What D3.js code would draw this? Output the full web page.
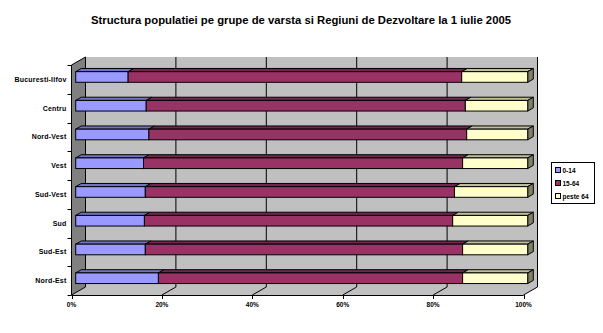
<!DOCTYPE html>
<html>
<head>
<meta charset="utf-8">
<script src="https://cdn.jsdelivr.net/npm/d3@7"></script>
<style>
	body { margin: 0; background: #fff; }
	svg text { font-family: "Liberation Sans", Arial, sans-serif; font-weight: bold; fill: #000; }
</style>
</head>
<body>
<svg id="svg"></svg>
<script>

// Population structure by age group and development region, 1 July 2005 (%)

const regions = ["Bucuresti-Ilfov", "Centru", "Nord-Vest", "Vest", "Sud-Vest", "Sud", "Sud-Est", "Nord-Est"];
const seriesNames = ["0-14", "15-64", "peste 64"];
const age0_14  = [11.6, 15.6, 16.2, 15.0, 15.4, 15.2, 15.4, 18.3];
const age15_64 = [73.8, 70.6, 70.3, 70.6, 68.4, 68.2, 70.2, 67.3];
const age65    = [14.6, 13.8, 13.5, 14.4, 16.2, 16.6, 14.4, 14.4];
const xTicks = [0, 20, 40, 60, 80, 100];

const colors = ["#9999ff", "#993366", "#ffffcc"];
const topColors = ["#7373bf", "#73264d", "#bfbf99"];
const sideColors = ["#4d4d80", "#4d1a33", "#808066"];

let width = 603,
	height = 333,
	pLeft = 71.5, pRight = 523.5,
	pTop = 65, pBottom = 295,
	depthX = 14, depthY = 8,
	barFront = 0.3, barBack = 0.7;

const svg = d3.select("svg#svg")
	.attr("width", width)
	.attr("height", height);

const xScale = d3.scaleLinear()
	.domain([0, 100])
	.range([pLeft, pRight]);

const yScale = d3.scaleBand()
	.domain(regions)
	.range([pTop, pBottom]);

// point on a plane pushed back by depth d (0 = front, 1 = back wall)
const px = (v, d) => xScale(v) + d * depthX;
const py = (y, d) => y - d * depthY;
const poly = pts => pts.map(p => p.join(",")).join(" ");

// ---- title ----
svg.append("text")
	.attr("x", 301)
	.attr("y", 24)
	.attr("text-anchor", "middle")
	.style("font-size", "11.3px")
	.text("Structura populatiei pe grupe de varsta si Regiuni de Dezvoltare la 1 iulie 2005");

// ---- walls and floor ----
svg.append("polygon")
	.attr("points", poly([[px(0, 1), py(pTop, 1)], [px(100, 1), py(pTop, 1)], [px(100, 1), py(pBottom, 1)], [px(0, 1), py(pBottom, 1)]]))
	.attr("fill", "#c0c0c0");

svg.append("polygon")
	.attr("points", poly([[px(0, 0), pBottom], [px(100, 0), pBottom], [px(100, 1), py(pBottom, 1)], [px(0, 1), py(pBottom, 1)]]))
	.attr("fill", "#c0c0c0");

svg.append("polygon")
	.attr("points", poly([[px(0, 0), pTop], [px(0, 1), py(pTop, 1)], [px(0, 1), py(pBottom, 1)], [px(0, 0), pBottom]]))
	.attr("fill", "#808080");

svg.append("line")
	.attr("x1", px(0, 0)).attr("y1", pTop)
	.attr("x2", px(0, 1)).attr("y2", py(pTop, 1))
	.attr("stroke", "#000");

// gridlines on the back wall and the floor
svg.selectAll("line.grid")
	.data(xTicks)
	.enter()
	.append("line")
	.attr("class", "grid")
	.attr("x1", d => px(d, 1)).attr("x2", d => px(d, 1))
	.attr("y1", py(pTop, 1)).attr("y2", py(pBottom, 1))
	.attr("stroke", "#000");

svg.selectAll("line.floor")
	.data(xTicks)
	.enter()
	.append("line")
	.attr("class", "floor")
	.attr("x1", d => px(d, 0)).attr("y1", pBottom)
	.attr("x2", d => px(d, 1)).attr("y2", py(pBottom, 1))
	.attr("stroke", "#000");

// ---- axes ----
svg.append("line")
	.attr("x1", pLeft).attr("x2", pLeft)
	.attr("y1", pTop).attr("y2", pBottom)
	.attr("stroke", "#000");

svg.append("line")
	.attr("x1", pLeft).attr("x2", pRight)
	.attr("y1", pBottom + 0.5).attr("y2", pBottom + 0.5)
	.attr("stroke", "#000");

const catTicks = regions.map(r => yScale(r)).concat([pBottom]);
svg.selectAll("line.ytick")
	.data(catTicks)
	.enter()
	.append("line")
	.attr("class", "ytick")
	.attr("x1", pLeft - 4).attr("x2", pLeft)
	.attr("y1", d => Math.round(d) + 0.5).attr("y2", d => Math.round(d) + 0.5)
	.attr("stroke", "#000");

svg.selectAll("line.xtick")
	.data(xTicks)
	.enter()
	.append("line")
	.attr("class", "xtick")
	.attr("x1", d => Math.round(xScale(d)) + 0.5).attr("x2", d => Math.round(xScale(d)) + 0.5)
	.attr("y1", pBottom).attr("y2", pBottom + 4)
	.attr("stroke", "#000");

svg.selectAll("text.xlabel")
	.data(xTicks)
	.enter()
	.append("text")
	.attr("class", "xlabel")
	.attr("x", d => xScale(d))
	.attr("y", pBottom + 12)
	.attr("text-anchor", "middle")
	.style("font-size", "6.5px")
	.text(d => d + "%");

svg.selectAll("text.ylabel")
	.data(regions)
	.enter()
	.append("text")
	.attr("class", "ylabel")
	.attr("x", pLeft - 5)
	.attr("y", d => yScale(d) + yScale.bandwidth() / 2 + 2.5)
	.attr("text-anchor", "end")
	.style("font-size", "7px")
	.style("letter-spacing", "0.2px")
	.text(d => d);

// ---- 3D stacked bars ----
const stacked = regions.map((r, i) => {
	const vals = [age0_14[i], age15_64[i], age65[i]];
	let acc = 0;
	return vals.map((v, s) => {
		const seg = { region: r, s, x0: acc, x1: acc + v };
		acc += v;
		return seg;
	});
});

const barH = yScale.bandwidth() * 0.37;

stacked.forEach(segs => {
	const yc = yScale(segs[0].region) + yScale.bandwidth() / 2;
	const yT = py(yc - barH / 2, barFront),
		yB = py(yc + barH / 2, barFront),
		ddx = (barBack - barFront) * depthX,
		ddy = (barBack - barFront) * depthY;
	const g = svg.append("g");

	segs.forEach((seg, k) => {
		const xa = px(seg.x0, barFront), xb = px(seg.x1, barFront);
		g.append("polygon")
			.attr("points", poly([[xa, yT], [xb, yT], [xb + ddx, yT - ddy], [xa + ddx, yT - ddy]]))
			.attr("fill", topColors[seg.s])
			.attr("stroke", "#000")
			.attr("stroke-linejoin", "round");
		if (k === segs.length - 1) {
			g.append("polygon")
				.attr("points", poly([[xb, yT], [xb + ddx, yT - ddy], [xb + ddx, yB - ddy], [xb, yB]]))
				.attr("fill", sideColors[seg.s])
				.attr("stroke", "#000")
				.attr("stroke-linejoin", "round");
		}
		g.append("rect")
			.attr("x", xa)
			.attr("y", yT)
			.attr("width", xb - xa)
			.attr("height", yB - yT)
			.attr("fill", colors[seg.s])
			.attr("stroke", "#000");
	});
});

// ---- legend ----
const legend = svg.append("g").attr("transform", "translate(551.5,162.5)");
legend.append("rect")
	.attr("width", 43)
	.attr("height", 41)
	.attr("fill", "#fff")
	.attr("stroke", "#000");

const items = legend.selectAll("g.item")
	.data(seriesNames)
	.enter()
	.append("g")
	.attr("class", "item")
	.attr("transform", (d, i) => `translate(4,${7.5 + i * 13})`);

items.append("rect")
	.attr("x", 0).attr("y", -2.5)
	.attr("width", 5).attr("height", 5)
	.attr("fill", (d, i) => colors[i])
	.attr("stroke", "#000");

items.append("text")
	.attr("x", 7)
	.attr("y", 2.5)
	.style("font-size", "6.5px")
	.text(d => d);

</script>
</body>
</html>
